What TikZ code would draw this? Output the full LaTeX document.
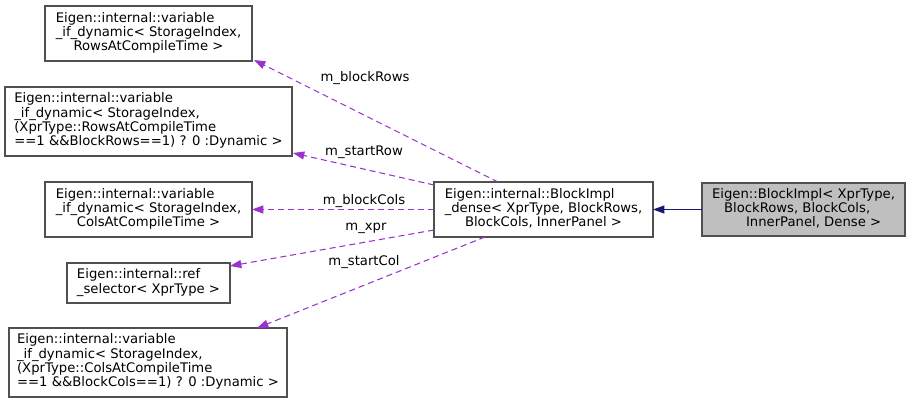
\documentclass[tikz,border=0pt]{standalone}
\usepackage{fontspec}
\setmainfont{DejaVu Sans}
\usetikzlibrary{arrows.meta,calc}
\definecolor{edgepurple}{HTML}{9A32CD}
\definecolor{edgenavy}{HTML}{191970}
\definecolor{boxline}{HTML}{505050}
\definecolor{boxfill}{HTML}{BFBFBF}
\begin{document}
\begin{tikzpicture}[x=0.75pt,y=-0.75pt,
  every node/.style={font=\fontsize{9.9}{10.7}\selectfont},
  cbox/.style={draw=boxline,line width=0.9pt,fill=white,inner sep=0pt,outer sep=0pt,
    minimum width=#1},
  memb/.style={draw=edgepurple,line width=0.8pt,dash pattern=on 4.5pt off 3pt,
    -{Triangle[length=8.5pt,width=6pt]}},
  inh/.style={draw=edgenavy,line width=0.8pt,-{Triangle[length=8.5pt,width=6pt]}},
  lbl/.style={inner sep=0pt}
]
\useasboundingbox (0,0) rectangle (911,403);
\node[cbox=155.25pt,minimum height=41.25pt] (A) at (148.5,33.5)
  {\begin{tabular}{@{}l@{}}Eigen::internal::variable\\\_if\_dynamic< StorageIndex,\\\multicolumn{1}{@{}c@{}}{RowsAtCompileTime >}\end{tabular}};
\node[cbox=215.25pt,minimum height=51.75pt] (B) at (148.5,121.5)
  {\begin{tabular}{@{}l@{}}Eigen::internal::variable\\\_if\_dynamic< StorageIndex,\\(XprType::RowsAtCompileTime\\==1 \&\&BlockRows==1) ? 0 :Dynamic >\end{tabular}};
\node[cbox=155.25pt,minimum height=41.25pt] (C) at (148.5,209.5)
  {\begin{tabular}{@{}l@{}}Eigen::internal::variable\\\_if\_dynamic< StorageIndex,\\\multicolumn{1}{@{}c@{}}{ColsAtCompileTime >}\end{tabular}};
\node[cbox=122.25pt,minimum height=30pt] (D) at (148.5,283)
  {\begin{tabular}{@{}l@{}}Eigen::internal::ref\\\_selector< XprType >\end{tabular}};
\node[cbox=208.5pt,minimum height=51.75pt] (E) at (148,362.5)
  {\begin{tabular}{@{}l@{}}Eigen::internal::variable\\\_if\_dynamic< StorageIndex,\\(XprType::ColsAtCompileTime\\==1 \&\&BlockCols==1) ? 0 :Dynamic >\end{tabular}};
\node[cbox=164.25pt,minimum height=41.25pt] (F) at (543.5,209.5)
  {\begin{tabular}{@{}l@{}}Eigen::internal::BlockImpl\\\_dense< XprType, BlockRows,\\\multicolumn{1}{@{}c@{}}{BlockCols, InnerPanel >}\end{tabular}};
\node[cbox=152.25pt,minimum height=39.75pt,fill=boxfill] (G) at (803.5,209.5)
  {\begin{tabular}{@{}l@{}}Eigen::BlockImpl< XprType,\\\hspace*{9pt}BlockRows, BlockCols,\\\hspace*{25.5pt}InnerPanel, Dense >\end{tabular}};
% connectors
\draw[inh] (G.west) -- (F.east);
\draw[memb] ($(F.north west)+(64,0)$) -- ($(A.south east)+(2,-1)$);
\draw[memb] ($(F.north west)+(0,3)$) -- ($(B.south east)+(1,-3)$);
\draw[memb] (F.west) -- (C.east);
\draw[memb] ($(F.south west)+(0,-7)$) -- ($(D.north east)+(0,3)$);
\draw[memb] ($(F.south west)+(51,0)$) -- ($(E.north west)+(248,0)$);
% labels
\node[lbl] (l1) at (365,78) {m\_blockRows};
\node[lbl] (l2) at (364,152) {m\_startRow};
\node[lbl] (l3) at (364,201) {m\_blockCols};
\node[lbl] (l4) at (366,228) {m\_xpr};
\node[lbl] (l5) at (364,262) {m\_startCol};
\end{tikzpicture}
\end{document}
